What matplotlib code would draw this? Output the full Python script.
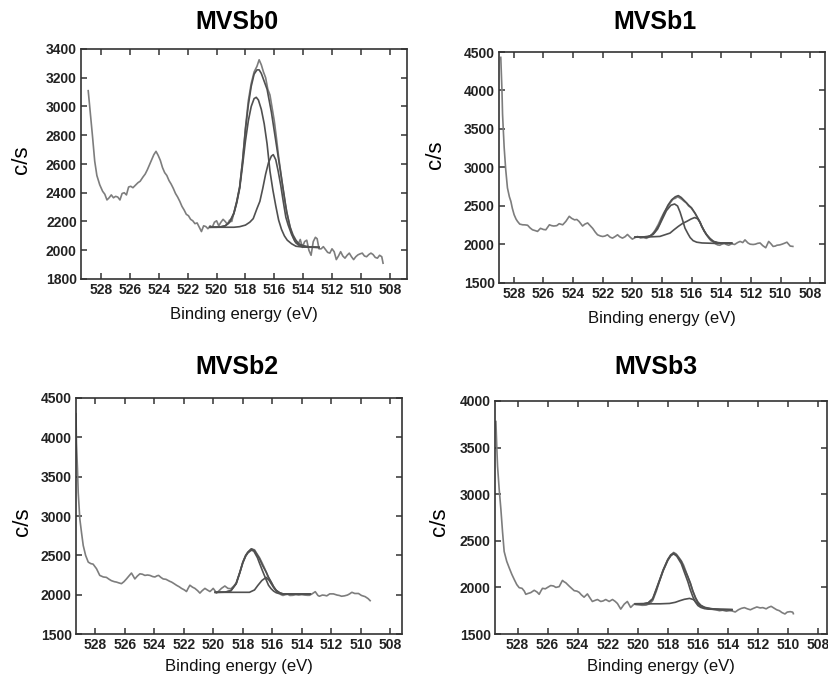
import numpy as np
import matplotlib
matplotlib.use('Agg')
import matplotlib.pyplot as plt

plt.rcParams['font.family'] = ['Liberation Sans', 'DejaVu Sans']

titles = ['MVSb0', 'MVSb1', 'MVSb2', 'MVSb3']
xticks = [528, 526, 524, 522, 520, 518, 516, 514, 512, 510, 508]

# ---- MVSb0 : (binding energy eV, counts/s)
raw0 = np.array([
    (528.9, 3110), (528.75, 2950), (528.6, 2790), (528.45, 2620), (528.3, 2520), (528.1, 2455),
    (527.9, 2410), (527.75, 2390), (527.6, 2350), (527.45, 2365), (527.3, 2385), (527.15, 2365),
    (527.0, 2375), (526.85, 2370), (526.7, 2350), (526.55, 2395), (526.4, 2400), (526.25, 2385),
    (526.1, 2440), (525.95, 2445), (525.8, 2435), (525.6, 2455), (525.45, 2470), (525.3, 2480),
    (525.1, 2510), (524.95, 2530), (524.8, 2560), (524.65, 2595), (524.5, 2630), (524.35, 2665),
    (524.2, 2688), (524.05, 2660), (523.9, 2625), (523.75, 2575), (523.6, 2540), (523.45, 2520),
    (523.3, 2485), (523.15, 2460), (523.0, 2430), (522.85, 2395), (522.7, 2370), (522.55, 2340),
    (522.4, 2305), (522.25, 2280), (522.1, 2250), (521.95, 2240), (521.8, 2215), (521.65, 2205),
    (521.5, 2185), (521.35, 2190), (521.2, 2160), (521.05, 2130), (520.9, 2170), (520.75, 2165),
    (520.6, 2150), (520.45, 2170), (520.3, 2160), (520.15, 2195), (520.0, 2205), (519.85, 2170),
    (519.7, 2195), (519.55, 2215), (519.4, 2200), (519.25, 2180), (519.1, 2210), (518.95, 2200),
    (518.8, 2260), (518.6, 2340), (518.4, 2440), (518.2, 2620), (518.0, 2850), (517.8, 3040),
    (517.6, 3160), (517.4, 3240), (517.2, 3280), (517.05, 3325), (516.9, 3290), (516.75, 3240),
    (516.6, 3200), (516.45, 3120), (516.3, 3080), (516.15, 2990), (516.0, 2900), (515.85, 2780),
    (515.7, 2650), (515.55, 2540), (515.4, 2430), (515.25, 2330), (515.1, 2250), (514.95, 2180),
    (514.8, 2120), (514.65, 2080), (514.5, 2050), (514.35, 2040), (514.2, 2075), (514.05, 2020),
    (513.9, 2060), (513.75, 2070), (513.6, 2000), (513.45, 1965), (513.3, 2060), (513.15, 2090),
    (513.03, 2080), (512.9, 2010), (512.75, 2010), (512.6, 2025), (512.45, 2005), (512.3, 1985),
    (512.15, 1980), (512.0, 2010), (511.85, 1990), (511.7, 1935), (511.55, 1960), (511.4, 1990),
    (511.25, 1960), (511.1, 1945), (510.95, 1965), (510.8, 1980), (510.65, 1955), (510.5, 1935),
    (510.35, 1955), (510.2, 1968), (510.05, 1975), (509.9, 1980), (509.75, 1960), (509.6, 1955),
    (509.45, 1970), (509.3, 1980), (509.15, 1970), (509.0, 1950), (508.85, 1945), (508.7, 1965),
    (508.55, 1955), (508.46, 1910)])
env0 = np.array([
    (520.45, 2160), (520.0, 2160), (519.7, 2162), (519.4, 2170), (519.1, 2195), (518.8, 2260),
    (518.6, 2340), (518.4, 2440), (518.2, 2620), (518.0, 2840), (517.8, 3010), (517.6, 3140),
    (517.4, 3225), (517.2, 3255), (517.05, 3255), (516.9, 3230), (516.7, 3175), (516.5, 3120),
    (516.2, 2960), (515.85, 2730), (515.5, 2500), (515.3, 2370), (515.15, 2270), (514.9, 2160),
    (514.7, 2106), (514.5, 2070), (514.3, 2045), (514.0, 2032), (513.5, 2022), (512.9, 2020)])
comp0a = np.array([
    (520.45, 2160), (519.8, 2162), (519.4, 2170), (519.1, 2195), (518.8, 2255), (518.6, 2330),
    (518.4, 2430), (518.2, 2590), (518.0, 2760), (517.8, 2900), (517.6, 3000), (517.4, 3055),
    (517.25, 3064), (517.1, 3045), (516.9, 2980), (516.7, 2880), (516.5, 2740), (516.3, 2550),
    (516.1, 2420), (515.9, 2310), (515.7, 2210), (515.5, 2145), (515.3, 2100), (515.1, 2070),
    (514.8, 2045), (514.5, 2028), (514.0, 2022), (512.9, 2020)])
comp0b = np.array([
    (520.45, 2160), (519.5, 2160), (518.8, 2160), (518.4, 2164), (518.0, 2175), (517.7, 2195),
    (517.46, 2220), (517.2, 2290), (517.0, 2340), (516.8, 2430), (516.6, 2530), (516.4, 2610),
    (516.2, 2655), (516.07, 2665), (515.9, 2630), (515.73, 2550), (515.55, 2450), (515.38, 2340),
    (515.2, 2230), (515.04, 2176), (514.8, 2110), (514.57, 2062), (514.3, 2035), (514.0, 2025),
    (512.9, 2020)])

# ---- MVSb1
raw1 = np.array([
    (528.88, 4430), (528.8, 4000), (528.76, 3690), (528.7, 3450), (528.65, 3256), (528.55, 2980),
    (528.43, 2735), (528.3, 2620), (528.2, 2561), (528.1, 2470), (527.98, 2387), (527.85, 2330),
    (527.75, 2300), (527.6, 2265), (527.41, 2256), (527.25, 2255), (527.07, 2250), (526.9, 2215),
    (526.74, 2191), (526.55, 2180), (526.4, 2170), (526.2, 2210), (526.0, 2195), (525.84, 2191),
    (525.6, 2256), (525.45, 2245), (525.3, 2240), (525.1, 2245), (524.94, 2270), (524.7, 2256),
    (524.49, 2300), (524.26, 2366), (524.1, 2340), (523.9, 2320), (523.75, 2325), (523.6, 2300),
    (523.36, 2240), (523.2, 2265), (523.02, 2280), (522.85, 2245), (522.68, 2210), (522.5, 2160),
    (522.35, 2126), (522.15, 2110), (522.0, 2104), (521.85, 2110), (521.68, 2126), (521.5, 2095),
    (521.34, 2083), (521.15, 2105), (521.0, 2126), (520.85, 2100), (520.67, 2083), (520.5, 2100),
    (520.33, 2130), (520.15, 2095), (520.0, 2070), (519.82, 2090), (519.65, 2104), (519.45, 2085),
    (519.25, 2090), (519.05, 2080), (518.85, 2100), (518.65, 2135), (518.45, 2190), (518.25, 2260),
    (518.05, 2345), (517.85, 2420), (517.65, 2480), (517.45, 2540), (517.25, 2590), (517.1, 2600),
    (516.95, 2620), (516.8, 2605), (516.65, 2585), (516.5, 2560), (516.35, 2540), (516.2, 2500),
    (516.05, 2480), (515.9, 2440), (515.75, 2400), (515.6, 2340), (515.45, 2290), (515.3, 2230),
    (515.15, 2175), (515.0, 2130), (514.85, 2085), (514.7, 2050), (514.55, 2035), (514.4, 2010),
    (514.25, 1995), (514.1, 1990), (513.97, 2004), (513.8, 2015), (513.65, 2000), (513.5, 1990),
    (513.3, 2010), (513.1, 2000), (512.9, 2025), (512.73, 2040), (512.55, 2025), (512.4, 2060),
    (512.2, 2020), (512.05, 2004), (511.85, 2000), (511.7, 2004), (511.55, 2015), (511.38, 2020),
    (511.2, 1985), (511.0, 1958), (510.8, 2040), (510.65, 2010), (510.5, 1975), (510.35, 1980),
    (510.25, 1990), (510.05, 1995), (509.9, 2004), (509.75, 2015), (509.57, 2030), (509.35, 1980),
    (509.17, 1975)])
env1 = np.array([
    (519.82, 2095), (519.3, 2097), (518.8, 2110), (518.5, 2160), (518.2, 2250), (517.9, 2390),
    (517.6, 2510), (517.35, 2580), (517.1, 2620), (516.9, 2635), (516.7, 2610), (516.45, 2561),
    (516.2, 2510), (516.0, 2474), (515.8, 2415), (515.66, 2370), (515.5, 2315), (515.32, 2240),
    (515.15, 2178), (514.99, 2128), (514.75, 2076), (514.53, 2041), (514.25, 2025), (513.97, 2020),
    (513.3, 2020)])
comp1a = np.array([
    (519.82, 2095), (519.0, 2097), (518.6, 2130), (518.3, 2200), (518.0, 2320), (517.7, 2440),
    (517.4, 2510), (517.15, 2526), (516.95, 2500), (516.78, 2420), (516.6, 2310), (516.45, 2213),
    (516.25, 2140), (516.1, 2090), (515.9, 2050), (515.66, 2030), (515.3, 2020), (514.5, 2015),
    (513.3, 2015)])
comp1b = np.array([
    (519.82, 2095), (519.0, 2097), (518.14, 2105), (517.46, 2148), (517.2, 2190), (516.9, 2235),
    (516.6, 2275), (516.33, 2300), (516.05, 2330), (515.8, 2350), (515.6, 2335), (515.43, 2290),
    (515.32, 2235), (515.15, 2172), (514.99, 2124), (514.75, 2073), (514.53, 2038), (514.25, 2023),
    (513.97, 2018), (513.3, 2018)])

# ---- MVSb2
raw2 = np.array([
    (529.3, 4300), (529.27, 3933), (529.2, 3600), (529.15, 3300), (529.04, 2962), (528.92, 2780),
    (528.81, 2625), (528.65, 2500), (528.47, 2414), (528.3, 2395), (528.14, 2388), (527.91, 2330),
    (527.69, 2245), (527.45, 2225), (527.24, 2220), (527.05, 2195), (526.9, 2178), (526.7, 2165),
    (526.56, 2160), (526.4, 2150), (526.22, 2140), (526.05, 2165), (525.88, 2200), (525.7, 2240),
    (525.54, 2275), (525.4, 2230), (525.31, 2200), (525.15, 2235), (524.97, 2265), (524.8, 2260),
    (524.63, 2245), (524.45, 2250), (524.29, 2245), (524.1, 2230), (523.95, 2225), (523.8, 2240),
    (523.7, 2245), (523.55, 2220), (523.39, 2200), (523.2, 2195), (523.05, 2180), (522.95, 2170),
    (522.82, 2160), (522.65, 2140), (522.49, 2120), (522.3, 2100), (522.15, 2080), (521.95, 2060),
    (521.81, 2040), (521.7, 2080), (521.58, 2120), (521.4, 2095), (521.24, 2080), (521.05, 2050),
    (520.9, 2020), (520.75, 2050), (520.56, 2080), (520.4, 2060), (520.22, 2040), (520.1, 2060),
    (520.0, 2080), (519.88, 2050), (519.78, 2020), (519.6, 2050), (519.44, 2080), (519.21, 2110),
    (519.0, 2080), (518.8, 2075), (518.6, 2110), (518.44, 2150), (518.2, 2280), (517.99, 2410),
    (517.8, 2490), (517.65, 2540), (517.5, 2565), (517.38, 2580), (517.2, 2570), (517.0, 2510),
    (516.86, 2470), (516.7, 2410), (516.55, 2350), (516.41, 2290), (516.25, 2220), (516.07, 2160),
    (515.9, 2100), (515.73, 2055), (515.55, 2030), (515.4, 2000), (515.27, 1990), (515.1, 2000),
    (514.95, 2005), (514.8, 1990), (514.6, 1992), (514.4, 2000), (514.2, 1995), (514.0, 2000),
    (513.8, 1995), (513.6, 1992), (513.47, 1992), (513.3, 2010), (513.08, 2038), (512.9, 1990),
    (512.8, 1980), (512.6, 1995), (512.45, 1992), (512.3, 1985), (512.1, 2010), (511.85, 2010),
    (511.6, 1995), (511.45, 1990), (511.3, 1980), (511.1, 1985), (510.9, 1995), (510.75, 2010),
    (510.6, 2030), (510.4, 2015), (510.15, 2015), (509.95, 1990), (509.7, 1975), (509.5, 1950),
    (509.36, 1924)])
env2 = np.array([
    (519.86, 2030), (519.2, 2032), (518.8, 2050), (518.44, 2140), (518.2, 2280), (517.99, 2414),
    (517.8, 2500), (517.65, 2540), (517.42, 2583), (517.2, 2560), (517.0, 2500), (516.86, 2456),
    (516.65, 2370), (516.41, 2287), (516.25, 2220), (516.07, 2160), (515.9, 2100), (515.73, 2055),
    (515.5, 2025), (515.27, 2010), (514.5, 2008), (513.42, 2008)])
comp2a = np.array([
    (519.86, 2030), (519.2, 2032), (518.8, 2050), (518.44, 2140), (518.2, 2275), (517.99, 2405),
    (517.8, 2490), (517.65, 2530), (517.42, 2565), (517.25, 2555), (517.0, 2470), (516.86, 2400),
    (516.65, 2300), (516.41, 2190), (516.25, 2120), (516.07, 2075), (515.9, 2045), (515.73, 2025),
    (515.5, 2012), (515.27, 2008), (513.42, 2008)])
comp2b = np.array([
    (519.86, 2030), (518.5, 2030), (517.54, 2030), (517.2, 2060), (516.97, 2118), (516.7, 2180),
    (516.41, 2220), (516.2, 2180), (516.07, 2140), (515.9, 2090), (515.73, 2050), (515.5, 2022),
    (515.27, 2010), (514.5, 2008), (513.42, 2008)])

# ---- MVSb3
raw3 = np.array([
    (529.44, 3780), (529.38, 3500), (529.33, 3300), (529.22, 3050), (529.11, 2842), (529.0, 2600),
    (528.89, 2385), (528.72, 2280), (528.55, 2208), (528.38, 2140), (528.22, 2085), (528.05, 2030),
    (527.89, 1997), (527.7, 1990), (527.55, 1960), (527.45, 1926), (527.3, 1935), (527.12, 1944),
    (526.89, 1969), (526.7, 1950), (526.56, 1926), (526.45, 1960), (526.34, 1990), (526.15, 1985),
    (526.0, 2000), (525.79, 2020), (525.6, 2015), (525.45, 2000), (525.23, 2008), (525.01, 2075),
    (524.9, 2060), (524.79, 2050), (524.57, 2015), (524.4, 1990), (524.23, 1965), (524.05, 1960),
    (523.9, 1947), (523.75, 1920), (523.57, 1895), (523.35, 1930), (523.15, 1880), (523.02, 1849),
    (522.85, 1860), (522.68, 1870), (522.46, 1849), (522.3, 1855), (522.13, 1870), (521.9, 1849),
    (521.68, 1870), (521.5, 1850), (521.35, 1827), (521.13, 1767), (520.9, 1820), (520.69, 1849),
    (520.47, 1785), (520.25, 1820), (520.1, 1815), (519.9, 1812), (519.7, 1808), (519.45, 1810),
    (519.2, 1825), (519.0, 1860), (518.76, 1960), (518.55, 2070), (518.32, 2180), (518.15, 2240),
    (517.99, 2296), (517.8, 2340), (517.61, 2375), (517.45, 2360), (517.3, 2330), (517.1, 2285),
    (516.95, 2240), (516.8, 2175), (516.66, 2110), (516.5, 2050), (516.33, 1960), (516.15, 1890),
    (515.99, 1840), (515.8, 1805), (515.55, 1780), (515.3, 1775), (515.0, 1765), (514.8, 1760),
    (514.56, 1750), (514.35, 1755), (514.1, 1745), (513.9, 1750), (513.73, 1748), (513.51, 1736),
    (513.3, 1760), (513.1, 1775), (512.9, 1783), (512.7, 1770), (512.5, 1760), (512.3, 1775),
    (512.07, 1790), (511.85, 1780), (511.67, 1783), (511.45, 1770), (511.3, 1785), (511.12, 1797),
    (510.95, 1780), (510.75, 1760), (510.57, 1750), (510.4, 1730), (510.2, 1715), (510.05, 1735),
    (509.85, 1740), (509.68, 1734), (509.64, 1718)])
env3 = np.array([
    (520.16, 1824), (519.6, 1826), (519.3, 1835), (519.0, 1880), (518.75, 1990), (518.5, 2100),
    (518.3, 2190), (518.0, 2300), (517.8, 2350), (517.61, 2368), (517.4, 2345), (517.1, 2279),
    (516.9, 2200), (516.66, 2115), (516.5, 2045), (516.33, 1960), (516.15, 1885), (515.99, 1840),
    (515.8, 1808), (515.55, 1787), (515.3, 1777), (515.0, 1770), (514.5, 1765), (513.73, 1761)])
comp3a = np.array([
    (520.16, 1824), (519.6, 1824), (519.3, 1833), (519.0, 1875), (518.75, 1980), (518.5, 2090),
    (518.3, 2180), (518.0, 2290), (517.8, 2340), (517.61, 2360), (517.4, 2335), (517.1, 2255),
    (516.9, 2165), (516.66, 2060), (516.5, 1975), (516.33, 1900), (516.15, 1840), (515.99, 1805),
    (515.8, 1785), (515.55, 1772), (515.3, 1767), (514.5, 1762), (513.73, 1761)])
comp3b = np.array([
    (520.16, 1824), (518.5, 1824), (517.88, 1828), (517.5, 1840), (517.22, 1856), (516.9, 1872),
    (516.55, 1882), (516.3, 1870), (516.1, 1840), (515.9, 1810), (515.7, 1790), (515.4, 1775),
    (515.0, 1767), (514.5, 1763), (513.73, 1761)])

raws = [raw0, raw1, raw2, raw3]
fits = [[env0, comp0a, comp0b], [env1, comp1a, comp1b],
        [env2, comp2a, comp2b], [env3, comp3a, comp3b]]
yticks = [np.arange(1800, 3401, 200), np.arange(1500, 4501, 500),
          np.arange(1500, 4501, 500), np.arange(1500, 4001, 500)]

W, H = 829, 678
# axes boxes in pixels: left, top, right, bottom
boxes = [(81, 49, 407, 279), (499, 52, 825, 283), (76, 398, 402, 634), (495, 401, 827, 634)]
xlims = [(529.4, 506.8), (529.0, 507.0), (529.3, 507.2), (529.5, 507.4)]
title_pos = [(237, 22), (655, 22), (237, 367), (656, 367)]
ylab_pos = [(22, 160), (436, 155), (23, 522), (440, 522)]
xlab_y = [315, 318, 666, 666]

fig = plt.figure(figsize=(W / 100, H / 100), dpi=100)

for i in range(4):
    l, t, r, b = boxes[i]
    ax = fig.add_axes([l / W, 1 - b / H, (r - l) / W, (b - t) / H])
    ax.plot(raws[i][:, 0], raws[i][:, 1], color='#7d7d7d', lw=1.2)
    for f in fits[i]:
        ax.plot(f[:, 0], f[:, 1], color='#505050', lw=1.2)
    ax.set_xlim(*xlims[i])
    ax.set_ylim(yticks[i][0], yticks[i][-1])
    ax.set_xticks(xticks)
    ax.set_yticks(yticks[i])
    ax.tick_params(direction='in', top=True, right=True, length=4, width=1.1,
                   color='#333333', labelsize=10, labelcolor='#222222', pad=3)
    for lab in ax.get_xticklabels() + ax.get_yticklabels():
        lab.set_fontweight('bold')
    for s in ax.spines.values():
        s.set_color('#333333')
        s.set_linewidth(1.2)
    fig.text((l + r) / 2 / W, 1 - xlab_y[i] / H, 'Binding energy (eV)', fontsize=12,
             color='#111111', ha='center', va='center')
    fig.text(title_pos[i][0] / W, 1 - title_pos[i][1] / H, titles[i], fontsize=18,
             fontweight='bold', ha='center', va='center')
    fig.text(ylab_pos[i][0] / W, 1 - ylab_pos[i][1] / H, 'c/s', fontsize=16,
             rotation=90, ha='center', va='center')

fig.savefig('out.png', dpi=100)
